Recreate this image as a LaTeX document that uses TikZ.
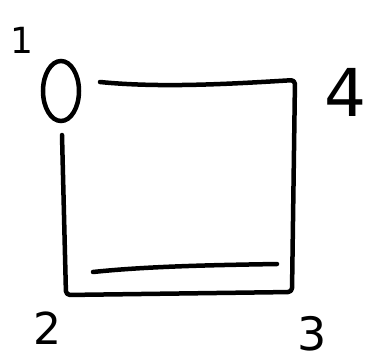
\documentclass[tikz,border=0pt]{standalone}
\usepackage{fontspec}
\setmainfont{DejaVu Sans}
\usetikzlibrary{shapes.geometric}
\begin{document}
\begin{tikzpicture}[x=1pt,y=-1pt,
  ink/.style={line width=4.5pt,line cap=round,line join=round,black},
  lab/.style={inner sep=0pt,font=\fontsize{#1}{#1}\selectfont}]
\useasboundingbox (0,0) rectangle (365,364);
\node[ellipse,draw,line width=4.5pt,minimum width=36pt,minimum height=60pt,inner sep=0pt] (n1) at (61,91) {};
\coordinate (t0) at (100,82);
\coordinate (c4) at (295,80);
\coordinate (c3) at (292,292);
\coordinate (c2) at (66,295);
\coordinate (l0) at (62,135);
\coordinate (i1) at (93,272);
\coordinate (i2) at (277,264);
\draw[ink,rounded corners=4pt] (t0) .. controls (160,88) and (230,84) .. (c4) -- (c3) -- (c2) -- (l0);
\draw[ink] (i1) .. controls (150,266) and (220,265) .. (i2);
\node[lab=36] (L1) at (22,40) {1};
\node[lab=66] (L4) at (345,92) {4};
\node[lab=44] (L2) at (47,328) {2};
\node[lab=46] (L3) at (312,334) {3};
\end{tikzpicture}
\end{document}
